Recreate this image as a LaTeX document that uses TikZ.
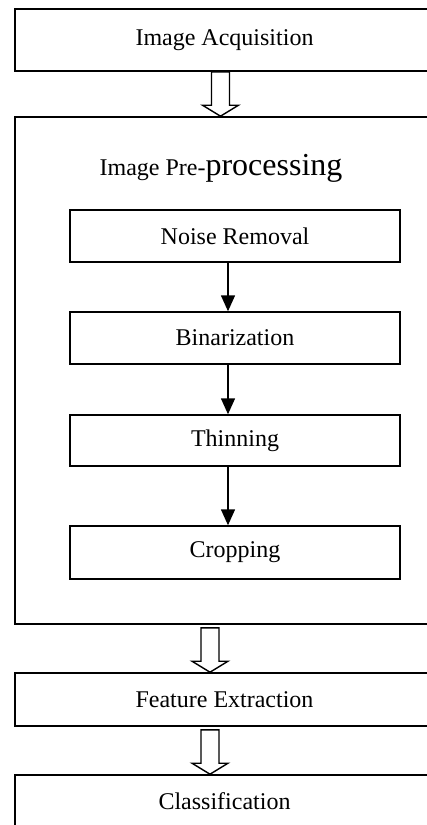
\documentclass[tikz,border=0pt]{standalone}
\usepackage{fontspec}
\setmainfont{Liberation Serif}
\usetikzlibrary{arrows.meta,calc}
\newcommand\blockarrow[2]{\draw[hollow] let \p1=(#1), \p2=(#2) in
  (\x1-9pt,\y1) -- (\x1+9pt,\y1) -- (\x1+9pt,\y2+11pt) -- (\x1+18pt,\y2+11pt)
  -- (\x1,\y2) -- (\x1-18pt,\y2+11pt) -- (\x1-9pt,\y2+11pt) -- cycle;}
\begin{document}
\begin{tikzpicture}[x=1pt,y=-1pt,
  box/.style={draw,line width=1.6pt,inner sep=0pt,minimum width=419pt,font=\fontsize{24}{28}\selectfont},
  inbox/.style={draw,line width=1.4pt,inner sep=0pt,minimum width=330pt,font=\fontsize{24}{28}\selectfont},
  flow/.style={line width=1.4pt,-{Triangle[width=14pt,length=16pt]}},
  hollow/.style={draw,line width=1.4pt,line join=miter}]
\useasboundingbox (0,0) rectangle (427,825);
\clip (0,0) rectangle (427,825);
% outer boxes
\node[box,minimum height=62pt] (acq) at (224.5,40) {Image Acquisition};
\node[box,minimum height=507pt] (pre) at (224.5,370.5) {};
\node[box,minimum height=53pt] (feat) at (224.5,699.5) {Feature Extraction};
\node[box,minimum height=53pt] (cls) at (224.5,801.5) {Classification};
% title
\node[anchor=base,inner sep=0pt] (title) at (221,175)
  {\fontsize{24}{28}\selectfont Image Pre-\fontsize{32}{36}\selectfont processing};
% inner boxes
\node[inbox,minimum height=52pt] (noise) at (235,236) {Noise Removal};
\node[inbox,minimum height=52pt] (bin) at (235,338) {Binarization};
\node[inbox,minimum height=51pt] (thin) at (235,440.5) {Thinning};
\node[inbox,minimum height=53pt] (crop) at (235,552.5) {Cropping};
% inner connectors
\draw[flow] ([xshift=-7pt]noise.south) -- ([xshift=-7pt]bin.north);
\draw[flow] ([xshift=-7pt]bin.south) -- ([xshift=-7pt]thin.north);
\draw[flow] ([xshift=-7pt]thin.south) -- ([xshift=-7pt]crop.north);
% hollow arrows
\coordinate (a1s) at ([xshift=-4pt]acq.south);
\coordinate (a1e) at ([xshift=-4pt]pre.north);
\coordinate (a2s) at ([shift={(-14.5,3)}]pre.south);
\coordinate (a2e) at ([xshift=-14.5pt]feat.north);
\coordinate (a3s) at ([shift={(-14.5,3)}]feat.south);
\coordinate (a3e) at ([xshift=-14.5pt]cls.north);
\blockarrow{a1s}{a1e}
\blockarrow{a2s}{a2e}
\blockarrow{a3s}{a3e}
\end{tikzpicture}
\end{document}
